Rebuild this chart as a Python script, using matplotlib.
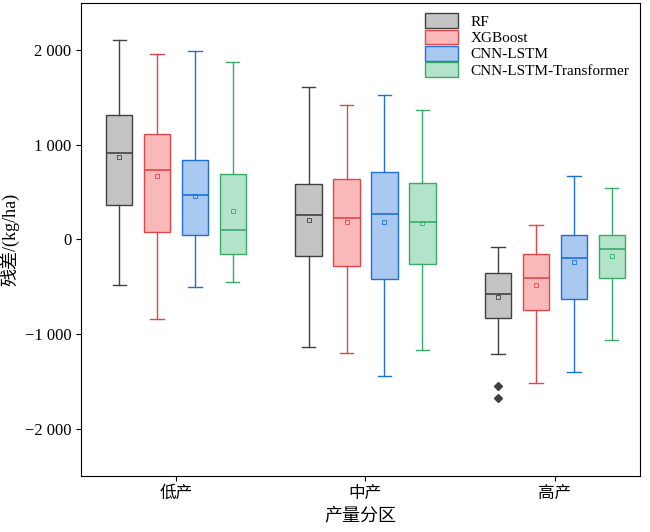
import matplotlib
matplotlib.use("Agg")
from matplotlib import pyplot as plt
from matplotlib.patches import Patch

plt.rcParams['font.family'] = ['Liberation Serif', 'Noto Sans CJK SC']
plt.rcParams['axes.unicode_minus'] = False

groups = ["低产", "中产", "高产"]
models = ["RF", "XGBoost", "CNN-LSTM", "CNN-LSTM-Transformer"]
faces = ["#c4c4c4", "#f9b9b9", "#a9c9f1", "#b3e3c9"]
edges = ["#404040", "#e0474c", "#1f6fd8", "#3aaa6a"]

# per model, per group: (whislo, q1, med, q3, whishi, mean)
stats = {
    "RF": [(-484, 368, 916, 1316, 2105, 874), (-1137, -179, 253, 589, 1611, 200), (-1211, -832, -579, -358, -84, -611)],
    "XGBoost": [(-842, 74, 737, 1116, 1958, 674), (-1200, -284, 221, 642, 1421, 179), (-1516, -747, -411, -158, 147, -484)],
    "CNN-LSTM": [(-505, 42, 474, 842, 1989, 463), (-1442, -421, 263, 716, 1526, 179), (-1400, -632, -200, 42, 674, -242)],
    "CNN-LSTM-Transformer": [(-453, -158, 95, 695, 1874, 305), (-1168, -263, 189, 600, 1368, 168), (-1063, -411, -105, 42, 547, -179)],
}
fliers = {"RF": [[], [], [-1547, -1674]]}

fig, ax = plt.subplots(figsize=(6.5, 5.32), dpi=100)
offsets = [-0.3, -0.1, 0.1, 0.3]
for m, (name, off) in enumerate(zip(models, offsets)):
    bs = []
    for g in range(3):
        lo, q1, med, q3, hi, mean = stats[name][g]
        bs.append(dict(whislo=lo, q1=q1, med=med, q3=q3, whishi=hi, mean=mean,
                       fliers=fliers.get(name, [[], [], []])[g]))
    ax.bxp(bs, positions=[g + off for g in range(3)], widths=0.14, patch_artist=True,
           showmeans=True, showcaps=True,
           boxprops=dict(facecolor=faces[m], edgecolor=edges[m], linewidth=1),
           medianprops=dict(color=edges[m], linewidth=1.2),
           whiskerprops=dict(color=edges[m], linewidth=1),
           capprops=dict(color=edges[m], linewidth=1),
           meanprops=dict(marker='s', markersize=3, markerfacecolor='none', markeredgecolor=edges[m], markeredgewidth=0.6),
           flierprops=dict(marker='D', markersize=4, markerfacecolor='#404040', markeredgecolor='#404040'))

ax.set_xlim(-0.5, 2.45)
ax.set_ylim(-2500, 2500)
ax.set_xticks(range(3))
ax.set_xticklabels(groups, fontsize=12)
ax.set_yticks([-2000, -1000, 0, 1000, 2000])
ax.set_yticklabels(["−2 000", "−1 000", "0", "1 000", "2 000"], fontsize=12)
ax.set_xlabel("产量分区", fontsize=13)
ax.set_ylabel("残差/(kg/ha)", fontsize=13)
handles = [Patch(facecolor=f, edgecolor=e, label=n) for f, e, n in zip(faces, edges, models)]
ax.legend(handles=handles, loc='upper right', frameon=False, fontsize=11,
          handlelength=2.2, handleheight=1.1, labelspacing=0.05, borderaxespad=0.3)
fig.subplots_adjust(left=0.125, right=0.985, top=0.995, bottom=0.105)
fig.savefig("out.png")
